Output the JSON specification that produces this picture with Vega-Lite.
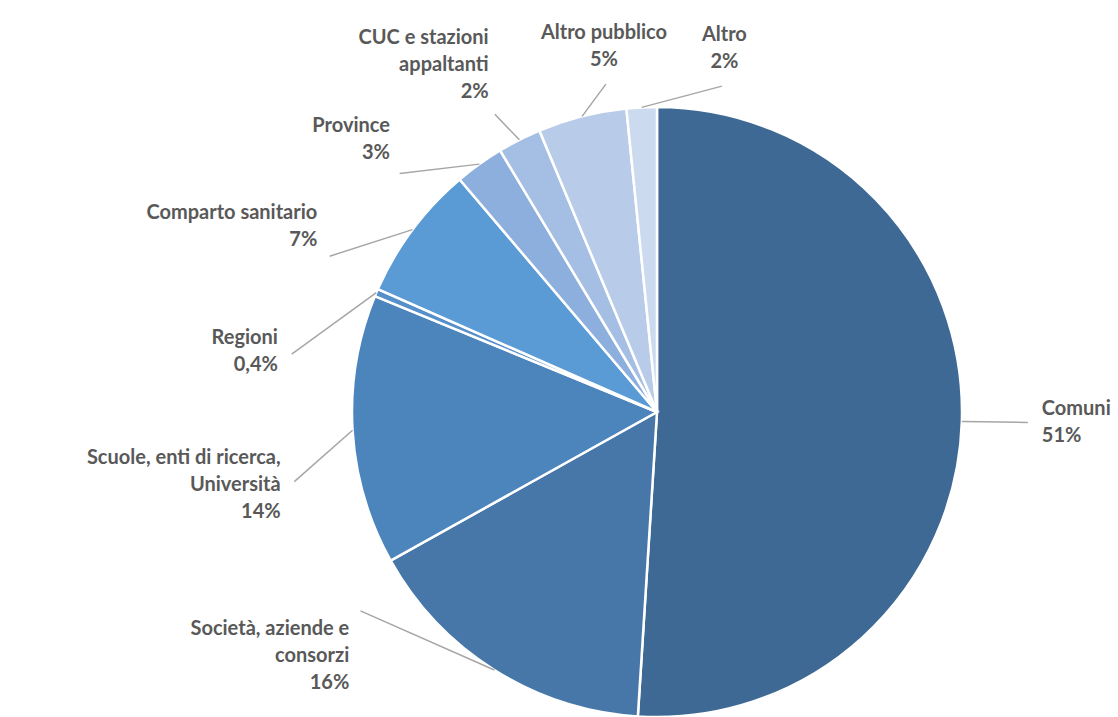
{
  "$schema": "https://vega.github.io/schema/vega-lite/v6.json",
  "width": 610,
  "height": 610,
  "autosize": {"type": "none"},
  "padding": {"left": 352, "top": 107, "right": 156, "bottom": 0},
  "background": "white",
  "config": {"view": {"stroke": null}},
  "data": {
    "values": [
      {"categoria": "Comuni", "quota": 51.0, "etichetta": "51%"},
      {"categoria": "Società, aziende e\nconsorzi", "quota": 15.9, "etichetta": "16%"},
      {"categoria": "Scuole, enti di ricerca,\nUniversità", "quota": 14.3, "etichetta": "14%"},
      {"categoria": "Regioni", "quota": 0.4, "etichetta": "0,4%"},
      {"categoria": "Comparto sanitario", "quota": 7.2, "etichetta": "7%"},
      {"categoria": "Province", "quota": 2.6, "etichetta": "3%"},
      {"categoria": "CUC e stazioni\nappaltanti", "quota": 2.3, "etichetta": "2%"},
      {"categoria": "Altro pubblico", "quota": 4.7, "etichetta": "5%"},
      {"categoria": "Altro", "quota": 1.6, "etichetta": "2%"}
    ]
  },
  "transform": [
    {"window": [{"op": "row_number", "as": "idx"}]},
    {"joinaggregate": [{"op": "sum", "field": "quota", "as": "totale"}]},
    {"window": [{"op": "sum", "field": "quota", "as": "q1"}], "sort": [{"field": "idx"}], "frame": [null, 0]},
    {"calculate": "datum.q1 - datum.quota", "as": "q0"},
    {"calculate": "(datum.q1 - datum.quota / 2) / datum.totale * 360", "as": "mid"},
    {"calculate": "(datum.mid > 125 && datum.mid < 235) ? (datum.mid < 180 ? 125 : 235) : datum.mid", "as": "target"},
    {"calculate": "datum.idx * 18", "as": "G"},
    {"calculate": "datum.target - datum.G", "as": "f"},
    {"window": [{"op": "max", "field": "f", "as": "fmax"}], "sort": [{"field": "idx"}], "frame": [null, 0]},
    {"window": [{"op": "min", "field": "f", "as": "fmin"}], "sort": [{"field": "idx"}], "frame": [0, null]},
    {"calculate": "(datum.G + (datum.fmax + datum.fmin) / 2) * PI / 180", "as": "Lr"},
    {"calculate": "datum.mid * PI / 180", "as": "mr"},
    {"calculate": "305 * sin(datum.mr)", "as": "sx"},
    {"calculate": "305 * cos(datum.mr)", "as": "sy"},
    {"calculate": "371 * sin(datum.Lr)", "as": "ex"},
    {"calculate": "331 * cos(datum.Lr)", "as": "ey"},
    {"calculate": "385 * sin(datum.Lr)", "as": "lx"},
    {"calculate": "345 * cos(datum.Lr)", "as": "ly"},
    {"calculate": "datum.categoria + '\\n' + datum.etichetta", "as": "testo"},
    {"calculate": "length(split(datum.testo, '\\n'))", "as": "righe"}
  ],
  "layer": [
    {
      "mark": {"type": "arc", "outerRadius": 305, "stroke": "white", "strokeWidth": 2.5},
      "encoding": {
        "theta": {"field": "q0", "type": "quantitative", "scale": {"domain": [0, 100]}},
        "theta2": {"field": "q1"},
        "color": {
          "field": "categoria",
          "type": "nominal",
          "legend": null,
          "scale": {
            "domain": ["Comuni", "Società, aziende e\nconsorzi", "Scuole, enti di ricerca,\nUniversità", "Regioni", "Comparto sanitario", "Province", "CUC e stazioni\nappaltanti", "Altro pubblico", "Altro"],
            "range": ["#3D6994", "#4677A8", "#4C84BC", "#5590CA", "#5B9BD5", "#8DAFDD", "#A5BEE3", "#B8CCE9", "#CBDAEF"]
          }
        }
      }
    },
    {
      "mark": {"type": "rule", "stroke": "#A6A6A6", "strokeWidth": 1.5},
      "encoding": {
        "x": {"field": "sx", "type": "quantitative", "axis": null, "scale": {"domain": [-305, 305], "nice": false, "zero": false}},
        "y": {"field": "sy", "type": "quantitative", "axis": null, "scale": {"domain": [-305, 305], "nice": false, "zero": false}},
        "x2": {"field": "ex"},
        "y2": {"field": "ey"}
      }
    },
    {
      "mark": {
        "type": "text",
        "font": "Lato",
        "fontWeight": "bold",
        "fontSize": 20,
        "lineHeight": 27,
        "lineBreak": "\n",
        "fill": "#595959",
        "align": {"expr": "sin(datum.Lr) > 0.3 ? 'left' : (sin(datum.Lr) < -0.3 ? 'right' : 'center')"},
        "baseline": {"expr": "cos(datum.Lr) > 0.3 ? 'bottom' : (cos(datum.Lr) < -0.3 ? 'top' : 'middle')"},
        "dy": {"expr": "cos(datum.Lr) > 0.3 ? -(datum.righe - 1) * 27 : (cos(datum.Lr) < -0.3 ? 0 : -(datum.righe - 1) * 13.5)"}
      },
      "encoding": {
        "x": {"field": "lx", "type": "quantitative", "axis": null, "scale": {"domain": [-305, 305], "nice": false, "zero": false}},
        "y": {"field": "ly", "type": "quantitative", "axis": null, "scale": {"domain": [-305, 305], "nice": false, "zero": false}},
        "text": {"field": "testo"}
      }
    }
  ]
}
